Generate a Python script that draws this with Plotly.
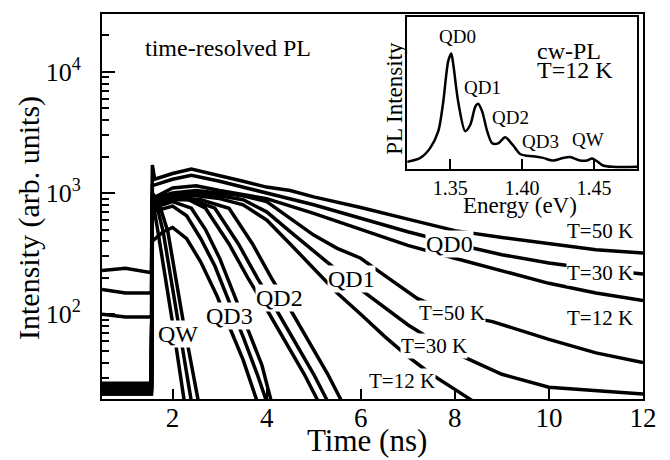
import math
import plotly.graph_objects as go

# ---------------- main panel: time-resolved PL traces (t in ns, I in arb. units) -------------
qd0_50k_t = [0.5, 1.0, 1.55, 1.57, 1.62, 2.0, 2.4, 3.0, 3.5, 4.0, 4.5, 5.0, 6.0, 7.0, 8.0, 9.0, 10.0, 11.0, 12.0]
qd0_50k_i = [230, 240, 220, 1700, 1300, 1450, 1580, 1400, 1250, 1120, 1050, 930, 760, 610, 490, 430, 380, 340, 320]

qd0_30k_t = [0.5, 1.0, 1.55, 1.57, 2.0, 2.4, 3.0, 4.0, 5.0, 6.0, 7.0, 8.0, 9.0, 10.0, 11.0, 12.0]
qd0_30k_i = [160, 150, 150, 1150, 1300, 1400, 1250, 1000, 800, 620, 480, 380, 310, 265, 235, 215]

qd0_12k_t = [0.5, 1.0, 1.55, 1.57, 2.0, 2.5, 3.0, 4.0, 5.0, 6.0, 7.0, 8.0, 9.0, 10.0, 11.0, 12.0]
qd0_12k_i = [100, 95, 95, 900, 1100, 1150, 1050, 900, 680, 500, 370, 290, 230, 180, 150, 130]

qd1_50k_t = [0.5, 1.55, 1.57, 2.0, 2.5, 3.0, 3.5, 4.0, 4.5, 5.0, 5.5, 6.0, 6.4, 7.2, 8.0, 8.8, 10.0, 11.0, 12.0]
qd1_50k_i = [26, 26, 900, 1000, 1050, 1000, 950, 850, 620, 450, 350, 290, 224, 135, 100, 87, 62, 48, 40]

qd1_30k_t = [0.5, 1.55, 1.57, 2.0, 2.5, 3.0, 3.5, 4.0, 4.5, 5.0, 5.5, 6.0, 6.5, 7.0, 7.5, 8.0, 9.0, 10.0, 12.0]
qd1_30k_i = [24, 24, 850, 950, 1000, 950, 880, 700, 480, 330, 230, 160, 115, 82, 62, 48, 32, 25, 22]

qd1_12k_t = [0.5, 1.55, 1.57, 2.0, 2.5, 3.0, 3.5, 4.0, 4.5, 5.0, 5.5, 6.0, 6.5, 7.0, 7.5, 8.0, 8.5]
qd1_12k_i = [23, 23, 800, 900, 950, 900, 800, 600, 380, 240, 150, 100, 66, 45, 32, 24, 18]

qd2_50k_t = [0.5, 1.55, 1.57, 2.0, 2.6, 3.2, 3.7, 4.1, 4.5, 4.9, 5.3, 5.6]
qd2_50k_i = [25, 25, 800, 880, 880, 750, 380, 200, 110, 60, 32, 19]

qd2_30k_t = [0.5, 1.55, 1.57, 2.0, 2.4, 2.9, 3.4, 3.8, 4.2, 4.6, 5.0, 5.3]
qd2_30k_i = [24, 24, 820, 900, 880, 750, 380, 200, 110, 60, 32, 19]

qd2_12k_t = [0.5, 1.55, 1.57, 2.0, 2.3, 2.7, 3.2, 3.6, 4.0, 4.4, 4.8, 5.1]
qd2_12k_i = [22, 22, 800, 880, 900, 750, 380, 200, 110, 60, 32, 19]

qd3_50k_t = [0.5, 1.55, 1.57, 2.0, 2.4, 2.7, 3.0, 3.3, 3.6, 3.9, 4.1]
qd3_50k_i = [25, 25, 750, 850, 750, 500, 290, 150, 75, 38, 19]

qd3_30k_t = [0.5, 1.55, 1.57, 2.0, 2.3, 2.6, 2.9, 3.2, 3.5, 3.8, 4.0]
qd3_30k_i = [23, 23, 700, 780, 650, 420, 250, 130, 65, 32, 19]

qd3_12k_t = [0.5, 1.55, 1.57, 1.8, 2.0, 2.3, 2.6, 2.95, 3.2, 3.5, 3.8]
qd3_12k_i = [24, 24, 400, 480, 520, 420, 270, 140, 80, 42, 19]

qw_50k_t = [0.5, 1.55, 1.57, 1.70, 1.90, 2.22, 2.55]
qw_50k_i = [25, 25, 1000, 850, 480, 90, 19]

qw_30k_t = [0.5, 1.55, 1.57, 1.66, 1.80, 2.12, 2.40]
qw_30k_i = [22, 22, 950, 800, 480, 90, 19]

qw_12k_t = [0.5, 1.55, 1.57, 1.62, 1.69, 1.99, 2.25]
qw_12k_i = [27, 27, 900, 700, 480, 90, 19]

main_x_ticks = [2, 4, 6, 8, 10, 12]
main_y_ticks = [100, 1000, 10000]
main_y_ticktext = ["10<sup>2</sup>", "10<sup>3</sup>", "10<sup>4</sup>"]
main_y_minor = [30, 40, 50, 60, 70, 80, 90, 200, 300, 400, 500, 600, 700, 800, 900,
                2000, 3000, 4000, 5000, 6000, 7000, 8000, 9000, 20000]

# ---------------- inset: cw-PL spectrum at T = 12 K -------------
cw_energy = [1.3201, 1.3292, 1.3361, 1.3417, 1.3451, 1.3486, 1.3507, 1.3521, 1.3556, 1.3604,
             1.3639, 1.3674, 1.3694, 1.3722, 1.3757, 1.3792, 1.3833, 1.3882, 1.3917, 1.3951,
             1.3986, 1.4021, 1.4076, 1.4146, 1.4215, 1.4285, 1.4333, 1.4403, 1.4451, 1.4486,
             1.4521, 1.4563, 1.4632, 1.4806]
cw_intensity = [0.048, 0.074, 0.14, 0.25, 0.44, 0.71, 0.76, 0.69, 0.44, 0.25,
                0.29, 0.41, 0.43, 0.38, 0.25, 0.17, 0.17, 0.21, 0.18, 0.14,
                0.10, 0.09, 0.085, 0.074, 0.057, 0.074, 0.080, 0.057, 0.057, 0.07,
                0.052, 0.024, 0.015, 0.015]
inset_x_ticks = [1.35, 1.40, 1.45]
inset_x_ticktext = ["1.35", "1.40", "1.45"]

SERIF = "Liberation Serif, Times New Roman, serif"

traces = [
    (qd0_50k_t, qd0_50k_i), (qd0_30k_t, qd0_30k_i), (qd0_12k_t, qd0_12k_i),
    (qd1_50k_t, qd1_50k_i), (qd1_30k_t, qd1_30k_i), (qd1_12k_t, qd1_12k_i),
    (qd2_50k_t, qd2_50k_i), (qd2_30k_t, qd2_30k_i), (qd2_12k_t, qd2_12k_i),
    (qd3_50k_t, qd3_50k_i), (qd3_30k_t, qd3_30k_i), (qd3_12k_t, qd3_12k_i),
    (qw_50k_t, qw_50k_i), (qw_30k_t, qw_30k_i), (qw_12k_t, qw_12k_i),
]

fig = go.Figure()
for t, i in traces:
    fig.add_trace(go.Scatter(x=t, y=i, mode="lines", line=dict(color="black", width=3.5),
                             xaxis="x", yaxis="y", showlegend=False, hoverinfo="skip"))

fig.add_trace(go.Scatter(x=cw_energy, y=cw_intensity, mode="lines",
                         line=dict(color="black", width=2.5, shape="spline", smoothing=0.8),
                         xaxis="x2", yaxis="y2", showlegend=False, hoverinfo="skip"))

axis_common = dict(showline=True, linecolor="black", linewidth=2, mirror=True,
                   showgrid=False, zeroline=False)

fig.update_layout(
    width=670, height=460,
    margin=dict(l=102, r=27, t=12, b=61),
    paper_bgcolor="white", plot_bgcolor="white",
    font=dict(family=SERIF, color="black"),
    xaxis=dict(domain=[0, 1], range=[0.5, 12], tickmode="array", tickvals=main_x_ticks,
               ticks="inside", ticklen=10, tickwidth=2, tickcolor="black",
               ticklabelstandoff=-6,
               tickfont=dict(family=SERIF, size=27, color="black"), **axis_common),
    yaxis=dict(domain=[0, 1], type="log", range=[math.log10(20), math.log10(30000)],
               tickmode="array", tickvals=main_y_ticks, ticktext=main_y_ticktext,
               ticks="inside", ticklen=13, tickwidth=2, tickcolor="black",
               ticklabelstandoff=14,
               minor=dict(tickmode="array", tickvals=main_y_minor, ticks="inside",
                          ticklen=7, tickwidth=1.5, tickcolor="black", showgrid=False),
               tickfont=dict(family=SERIF, size=26, color="black"), **axis_common),
    xaxis2=dict(domain=[0.564, 0.989], anchor="y2", range=[1.32, 1.48], tickmode="array",
                tickvals=inset_x_ticks, ticktext=inset_x_ticktext, ticks="inside",
                ticklen=10, tickwidth=1.5, tickcolor="black",
                tickfont=dict(family=SERIF, size=20, color="black"), **axis_common),
    yaxis2=dict(domain=[0.597, 0.992], anchor="x2", range=[0, 1], showticklabels=False,
                ticks="", **axis_common),
)

fig.add_shape(type="rect", xref="paper", yref="paper", x0=0.564, x1=0.989, y0=0.597, y1=0.992,
              fillcolor="white", line=dict(width=0), layer="below")

def ann(text, x, y, size, xref="x", yref="y", bg="white", **kw):
    kw.setdefault("xanchor", "center")
    kw.setdefault("yanchor", "middle")
    fig.add_annotation(text=text, x=x, y=y, xref=xref, yref=yref, showarrow=False,
                       font=dict(family=SERIF, size=size, color="black"),
                       bgcolor=bg, borderpad=0, **kw)

NOBG = "rgba(0,0,0,0)"

# main labels (log axis -> y given as log10 value)
ann("time-resolved PL", 3.18, 4.20, 24, bg=NOBG)
ann("QD0", 7.89, math.log10(380), 24)
ann("QD1", 5.81, math.log10(197), 24)
ann("QD2", 4.28, math.log10(135), 24)
ann("QD3", 3.20, math.log10(96), 24)
ann("QW", 2.12, math.log10(69), 24)
ann("T=50 K", 11.09, math.log10(490), 21)
ann("T=30 K", 11.09, math.log10(221), 21)
ann("T=12 K", 11.09, math.log10(93), 21)
ann("T=50 K", 7.94, math.log10(102), 21)
ann("T=30 K", 7.56, math.log10(55), 21)
ann("T=12 K", 6.88, math.log10(28), 21)

# axis titles
ann("Time (ns)", 0.49, -0.108, 31, xref="paper", yref="paper", bg=NOBG)
ann("Intensity (arb. units)", -0.135, 0.47, 30, xref="paper", yref="paper",
    bg=NOBG, textangle=-90)

# inset labels
ann("QD0", 1.3549, 0.87, 19, xref="x2", yref="y2", bg=NOBG)
ann("QD1", 1.3722, 0.536, 19, xref="x2", yref="y2", bg=NOBG)
ann("QD2", 1.3917, 0.34, 19, xref="x2", yref="y2", bg=NOBG)
ann("QD3", 1.4125, 0.18, 19, xref="x2", yref="y2", bg=NOBG)
ann("QW", 1.4458, 0.196, 19, xref="x2", yref="y2", bg=NOBG)
ann("cw-PL", 1.4097, 0.78, 24, xref="x2", yref="y2", bg=NOBG, xanchor="left")
ann("T=12 K", 1.4097, 0.65, 24, xref="x2", yref="y2", bg=NOBG, xanchor="left")
ann("Energy (eV)", 0.773, 0.502, 23, xref="paper", yref="paper", bg=NOBG)
ann("PL Intensity", 0.5416, 0.780, 23, xref="paper", yref="paper", bg=NOBG,
    textangle=-90)

fig.write_html("out.html", config={"displayModeBar": False},
               post_script="document.body.style.margin='0px';")
